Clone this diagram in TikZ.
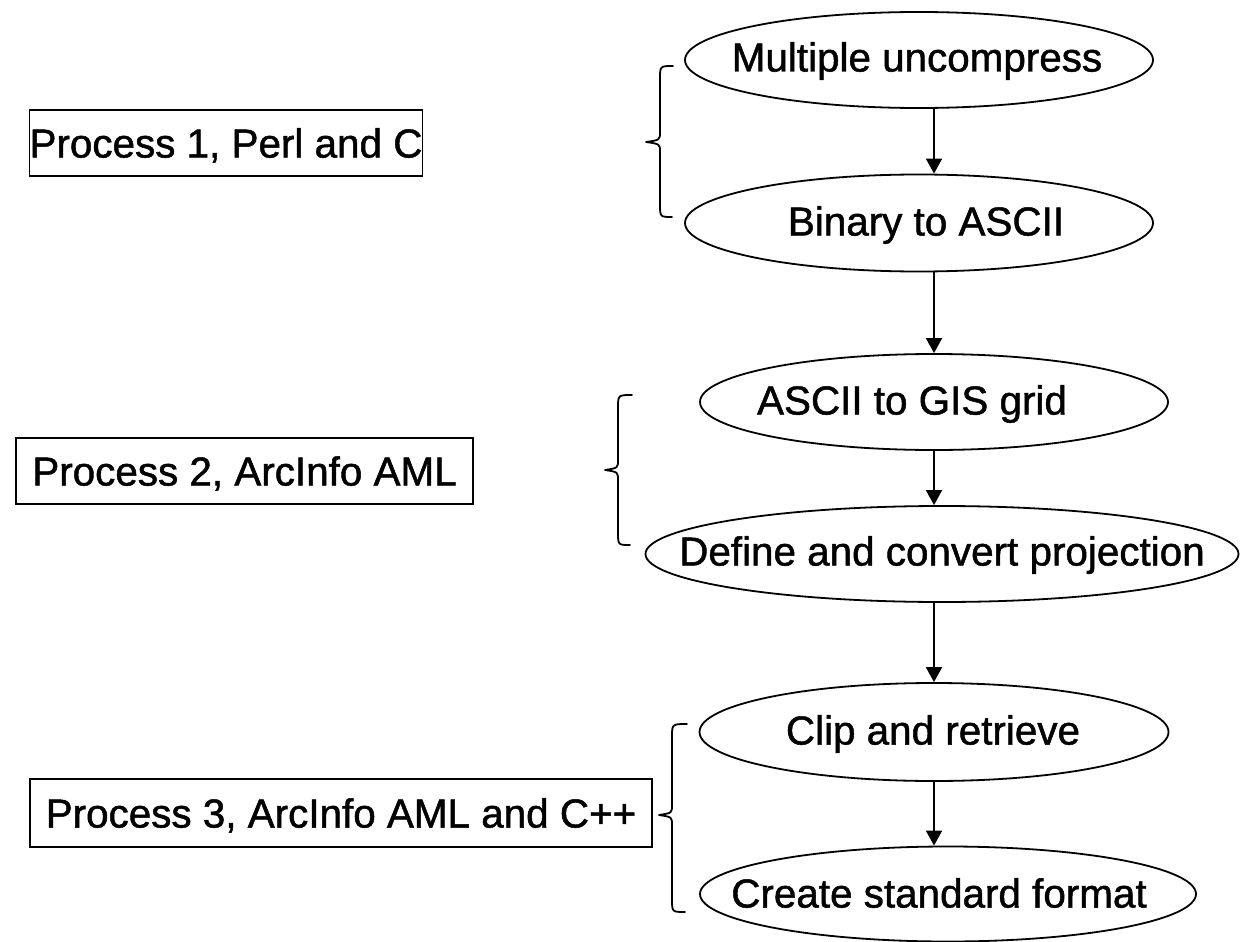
\documentclass[tikz,border=0pt]{standalone}
\usepackage{fontspec}
\setmainfont{Liberation Sans}[FakeBold=1.2]
\usetikzlibrary{arrows.meta,shapes.geometric}
\begin{document}
\begin{tikzpicture}[x=1pt,y=-1pt,
  txt/.style={font=\fontsize{40.4}{48}\selectfont, text height=29pt, text depth=0pt, inner sep=0pt},
  proc/.style={draw, ellipse, line width=1.8pt, inner sep=0pt},
  grp/.style={draw, rectangle, line width=1.8pt, txt},
  arr/.style={line width=1.8pt, -{Triangle[width=16pt,length=15pt]}},
  brc/.style={line width=1.8pt, line cap=round, line join=round}]
\useasboundingbox (0,0) rectangle (1240,942);
% process ellipses
\node[proc, minimum width=468pt, minimum height=96pt] (e1) at (919,60) {};
\node[proc, minimum width=468pt, minimum height=97pt] (e2) at (919,223) {};
\node[proc, minimum width=468pt, minimum height=96pt] (e3) at (934,402) {};
\node[proc, minimum width=593pt, minimum height=96pt] (e4) at (942,554) {};
\node[proc, minimum width=469pt, minimum height=98pt] (e5) at (934,732) {};
\node[proc, minimum width=496pt, minimum height=95pt] (e6) at (948,894) {};
\node[txt] (t1) at (917,57) {Multiple uncompress};
\node[txt] (t2) at (926,221) {Binary to ASCII};
\node[txt] (t3) at (912,400) {ASCII to GIS grid};
\node[txt] (t4) at (942,551) {Define and convert projection};
\node[txt] (t5) at (933,730) {Clip and retrieve};
\node[txt] (t6) at (939,893) {Create standard format};
% group boxes
\node[grp, minimum width=382pt, minimum height=66pt] (b1) at (226,143) {Process 1, Perl and C};
\node[grp, minimum width=457pt, minimum height=66pt] (b2) at (244.5,471) {Process 2, ArcInfo AML};
\node[grp, minimum width=622pt, minimum height=68pt] (b3) at (341,813) {Process 3, ArcInfo AML and C++};
% arrows
\coordinate (ax) at (934,0);
\draw[arr] (e1.south -| ax) -- (e2.north -| ax);
\draw[arr] (e2.south -| ax) -- (e3.north -| ax);
\draw[arr] (e3.south -| ax) -- (e4.north -| ax);
\draw[arr] (e4.south -| ax) -- (e5.north -| ax);
\draw[arr] (e5.south -| ax) -- (e6.north -| ax);
% braces
\draw[brc] (673,66) .. controls (660,66) .. (660,79) -- (660,132) .. controls (660,140) .. (646,142) .. controls (660,144) .. (660,152) -- (660,204) .. controls (660,217) .. (672,217);
\draw[brc] (632,395) .. controls (618,395) .. (618,408) -- (618,460) .. controls (618,468) .. (605,470) .. controls (618,472) .. (618,480) -- (618,532) .. controls (618,545) .. (630,545);
\draw[brc] (687,724) .. controls (672,724) .. (672,737) -- (672,805) .. controls (672,813) .. (659,815) .. controls (672,817) .. (672,825) -- (672,899) .. controls (672,912) .. (685,912);
\end{tikzpicture}
\end{document}
